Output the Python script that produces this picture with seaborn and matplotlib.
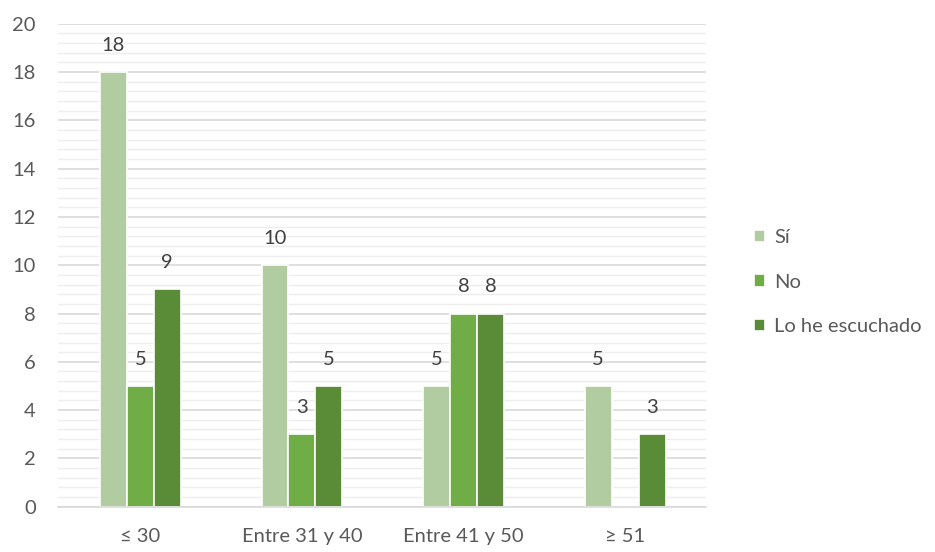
import matplotlib
matplotlib.use("Agg")
import matplotlib.pyplot as plt
import seaborn as sns
import pandas as pd
from matplotlib.ticker import MultipleLocator

categories = ["≤ 30", "Entre 31 y 40", "Entre 41 y 50", "≥ 51"]
series_names = ["Sí", "No", "Lo he escuchado"]
si_vals = [18, 10, 5, 5]
no_vals = [5, 3, 8, 0]
lo_vals = [9, 5, 8, 3]
colors = ["#B2CCA2", "#70AD47", "#5A8B37"]

rows = []
for name, vals in zip(series_names, [si_vals, no_vals, lo_vals]):
    for c, v in zip(categories, vals):
        rows.append({"Grupo": c, "Respuesta": name, "Valor": v})
df = pd.DataFrame(rows)

sns.set_theme(style="white")
plt.rcParams["font.family"] = ["Lato", "DejaVu Sans"]
text_color = "#595959"
fs = 14.5

fig = plt.figure(figsize=(9.35, 5.52), dpi=100)
ax = fig.add_axes([0.062, 0.082, 0.693, 0.875])

sns.barplot(data=df, x="Grupo", y="Valor", hue="Respuesta", order=categories,
            hue_order=series_names, palette=colors, width=0.5, ax=ax,
            edgecolor="white", linewidth=1.2, saturation=1, legend=True)

ax.set_ylim(0, 20)
ax.set_xlim(-0.51, 3.5)
ax.yaxis.set_major_locator(MultipleLocator(2))
ax.yaxis.set_minor_locator(MultipleLocator(0.4))
ax.grid(True, which="major", axis="y", color="#D9D9D9", linewidth=1.2)
ax.grid(True, which="minor", axis="y", color="#EDEDED", linewidth=1.0)
ax.set_axisbelow(True)
for s in ["top", "right", "left"]:
    ax.spines[s].set_visible(False)
ax.spines["bottom"].set_color("#D9D9D9")
ax.spines["bottom"].set_linewidth(1.2)
ax.tick_params(axis="both", which="both", length=0, labelsize=fs, labelcolor=text_color)
ax.tick_params(axis="y", pad=16)
ax.tick_params(axis="x", pad=15)
ax.set_xlabel("")
ax.set_ylabel("")

for cont in ax.containers:
    labels = [f"{int(b.get_height())}" if b.get_height() > 0 else "" for b in cont]
    ax.bar_label(cont, labels=labels, padding=13, fontsize=fs, color="#404040")

handles, labs = ax.get_legend_handles_labels()
ax.get_legend().remove()
fig.legend(handles, labs, loc="center left", bbox_to_anchor=(0.787, 0.489),
           frameon=False, fontsize=fs, labelcolor=text_color,
           handlelength=0.55, handleheight=0.55, handletextpad=0.45, labelspacing=1.35)

fig.savefig("out.png", dpi=100)
